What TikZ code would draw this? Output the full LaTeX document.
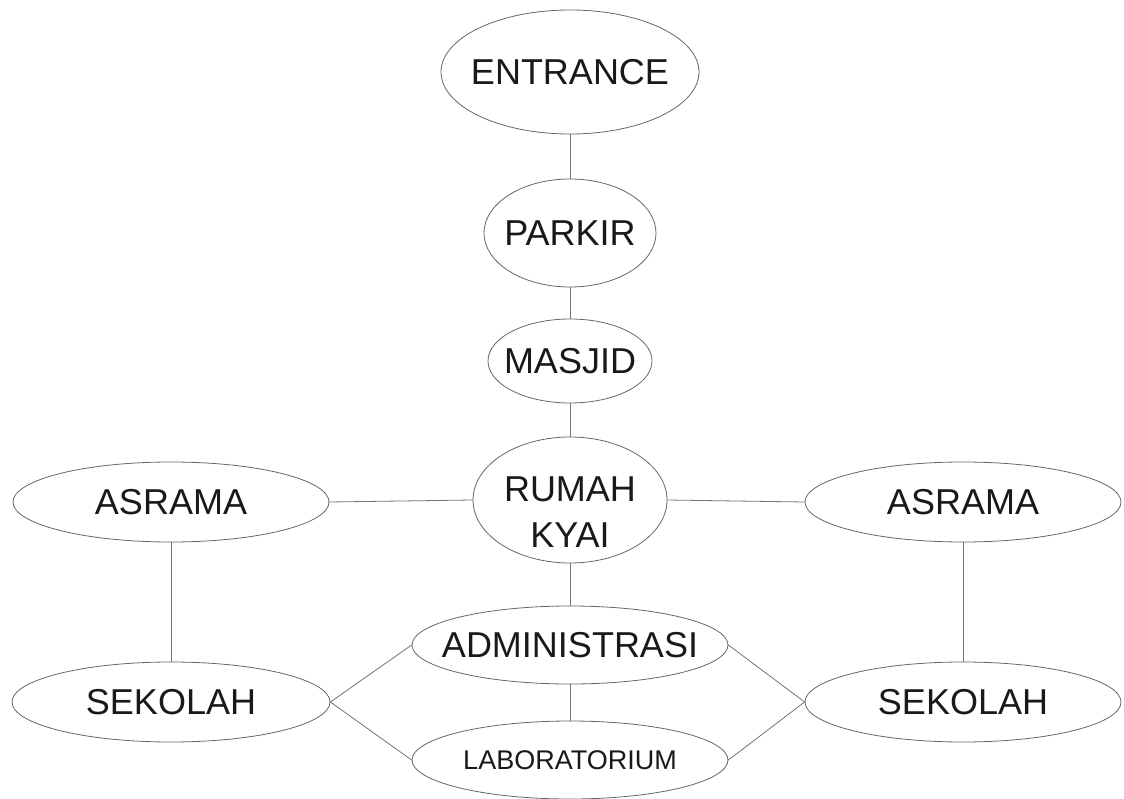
\documentclass[tikz,border=0pt]{standalone}
\usepackage{fontspec}
\setmainfont{Liberation Sans}
\usetikzlibrary{shapes.geometric}
\begin{document}
\begin{tikzpicture}[x=1pt,y=-1pt,line join=round,line cap=round,
	place/.style={draw=black!60,line width=0.8pt,ellipse,inner sep=0pt},
	link/.style={draw=black!55,line width=0.8pt},
	every label/.style={font=\fontsize{36}{46}\selectfont,text=black!90,inner sep=0pt}]
	\useasboundingbox (0,0) rectangle (1124,799);
	% tengah
	\node[place,minimum width=258pt,minimum height=124pt,label=center:ENTRANCE] (entrance) at (570,72) {};
	\node[place,minimum width=172pt,minimum height=108pt,label=center:PARKIR] (parkir) at (570,233) {};
	\node[place,minimum width=164pt,minimum height=84pt,label=center:MASJID] (masjid) at (570,361) {};
	\node[place,minimum width=194pt,minimum height=126pt,label={[align=center,yshift=-12pt]center:RUMAH\\KYAI}] (rumah) at (570,500) {};
	\node[place,minimum width=316pt,minimum height=78pt,label=center:ADMINISTRASI] (admin) at (570,645) {};
	\node[place,minimum width=316pt,minimum height=78pt,label={[font=\fontsize{27}{32}\selectfont]center:LABORATORIUM}] (lab) at (570,760) {};
	% kiri & kanan
	\node[place,minimum width=316pt,minimum height=80pt,label=center:ASRAMA] (asramaL) at (171,502) {};
	\node[place,minimum width=316pt,minimum height=80pt,label=center:ASRAMA] (asramaR) at (963,502) {};
	\node[place,minimum width=318pt,minimum height=80pt,label=center:SEKOLAH] (sekolahL) at (171,702) {};
	\node[place,minimum width=316pt,minimum height=80pt,label=center:SEKOLAH] (sekolahR) at (963,702) {};
	% jalur
	\foreach \a/\b in {entrance/parkir,parkir/masjid,masjid/rumah,rumah/admin,admin/lab,asramaL/sekolahL,asramaR/sekolahR}
		\draw[link] (\a.south)--(\b.north);
	\draw[link] (rumah.west)--(asramaL.east) (rumah.east)--(asramaR.west);
	\draw[link] (admin.west)--(sekolahL.east)--(lab.west);
	\draw[link] (admin.east)--(sekolahR.west)--(lab.east);
\end{tikzpicture}
\end{document}
